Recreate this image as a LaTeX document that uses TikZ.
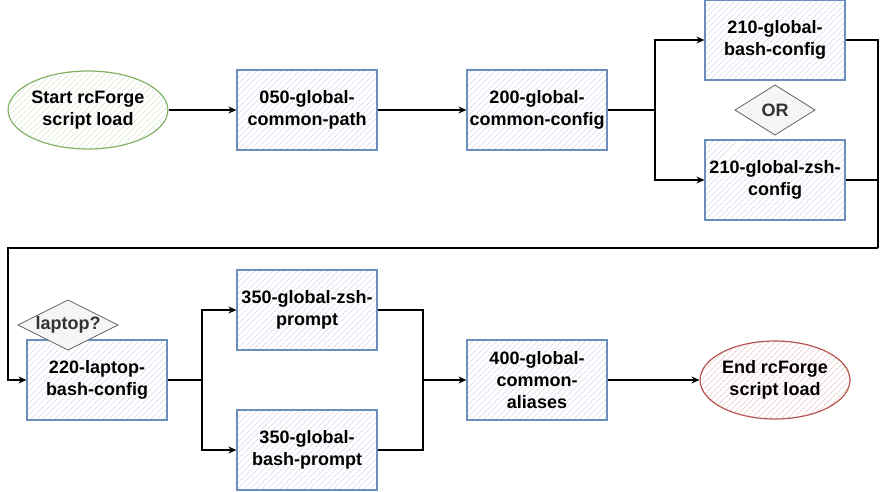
\documentclass[tikz,border=0pt]{standalone}
\usepackage{fontspec}
\setmainfont{Liberation Sans}
\usetikzlibrary{shapes.geometric,arrows.meta,patterns.meta}
\definecolor{bluestroke}{HTML}{6C8EBF}
\definecolor{bluefill}{HTML}{DAE8FC}
\definecolor{greenstroke}{HTML}{82B366}
\definecolor{greenfill}{HTML}{D5E8D4}
\definecolor{redstroke}{HTML}{B85450}
\definecolor{redfill}{HTML}{F8CECC}
\definecolor{graystroke}{HTML}{666666}
\definecolor{grayfill}{HTML}{F5F5F5}
\definecolor{graytext}{HTML}{333333}
\begin{document}
\begin{tikzpicture}[x=1pt,y=-1pt,
  font=\fontsize{18pt}{21.6pt}\selectfont\bfseries,
  hatched/.style={preaction={fill=white},preaction={pattern={Lines[angle=45,distance=4pt,line width=0.7pt]},pattern color=#1}},
  stepbox/.style={rectangle,draw=bluestroke,line width=1.2pt,
    hatched=bluestroke!30,
    minimum width=140pt,minimum height=80pt,align=center,inner sep=0pt},
  termnode/.style={ellipse,line width=1.2pt,minimum width=120pt,minimum height=78pt,align=center,inner sep=0pt},
  startnode/.style={termnode,draw=greenstroke,hatched=greenstroke!30},
  endnode/.style={termnode,draw=redstroke,hatched=redstroke!30},
  decision/.style={draw=graystroke,fill=grayfill,line width=0.8pt},
  decisiontext/.style={text=graytext,inner sep=0pt},
  flow/.style={draw=black,line width=1.1pt,-{Stealth[length=8pt,width=7pt]}},
  plain/.style={draw=black,line width=1.1pt}
]
\useasboundingbox (0,0) rectangle (886,491);

\node[startnode] (start) at (88,110) {Start rcForge\\script load};
\node[stepbox] (n050) at (307,110) {050-global-\\common-path};
\node[stepbox] (n200) at (537,110) {200-global-\\common-config};
\node[stepbox] (n210b) at (775,40) {210-global-\\bash-config};
\draw[decision] (775,110) +(-40,0) -- +(0,-25) -- +(40,0) -- +(0,25) -- cycle;
\node[decisiontext] (or) at (775,110) {OR};
\node[stepbox] (n210z) at (775,180) {210-global-zsh-\\config};
\node[stepbox] (n220) at (97,380) {220-laptop-\\bash-config};
\draw[decision] (68,325) +(-50,0) -- +(0,-25) -- +(50,0) -- +(0,25) -- cycle;
\node[decisiontext] (laptop) at (68,325) {laptop?};
\node[stepbox] (n350z) at (307,310) {350-global-zsh-\\prompt};
\node[stepbox] (n350b) at (307,450) {350-global-\\bash-prompt};
\node[stepbox] (n400) at (537,380) {400-global-\\common-\\aliases};
\node[endnode] (endn) at (775,380) {End rcForge\\script load};

\coordinate (j1) at (655,110);
\coordinate (r1) at (878,248);
\coordinate (l1) at (8,248);
\coordinate (j2) at (202,380);
\coordinate (j3) at (423,380);

\draw[flow] (start) -- (n050);
\draw[flow] (n050) -- (n200);
\draw[plain] (n200.east) -- (j1);
\draw[flow] (j1) |- (n210b.west);
\draw[flow] (j1) |- (n210z.west);
\draw[plain] (n210b.east) -| (r1);
\draw[plain] (n210z.east) -- (n210z.east -| r1);
\draw[flow] (r1) -- (l1) |- (n220.west);
\draw[plain] (n220.east) -- (j2);
\draw[flow] (j2) |- (n350z.west);
\draw[flow] (j2) |- (n350b.west);
\draw[plain] (n350z.east) -| (j3);
\draw[plain] (n350b.east) -| (j3);
\draw[flow] (j3) -- (n400.west);
\draw[flow] (n400) -- (endn);
\end{tikzpicture}
\end{document}
